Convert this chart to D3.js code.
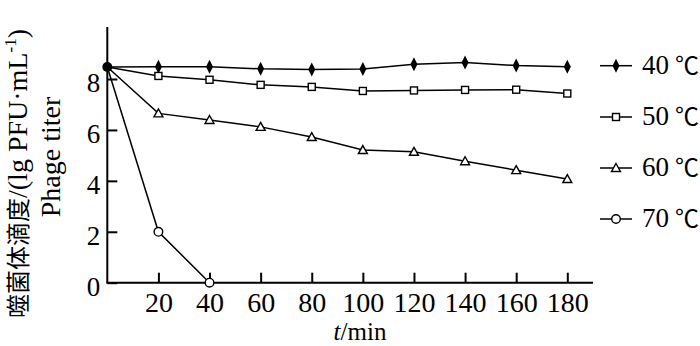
<!DOCTYPE html>
<html><head><meta charset="utf-8">
<script src="https://cdn.jsdelivr.net/npm/d3@7"></script>
<style>body{margin:0;background:#fff}svg{display:block}</style>
</head><body>
<svg id="c" width="700" height="346"></svg>
<script>
const times = [0,20,40,60,80,100,120,140,160,180];
const xTicks = [20,40,60,80,100,120,140,160,180];
const yTicks = [0,2,4,6,8];
const seriesNames = ["40 ℃","50 ℃","60 ℃","70 ℃"];
const s40 = [8.47,8.48,8.48,8.40,8.37,8.39,8.58,8.65,8.53,8.48];
const s50 = [8.47,8.12,7.97,7.77,7.69,7.53,7.55,7.57,7.58,7.43];
const s60 = [8.47,6.65,6.39,6.12,5.72,5.21,5.14,4.77,4.42,4.07];
const s70 = [8.47,2.0,0];
const symbols = ["diamond","square","triangle","circle"];

const svg = d3.select("#c");
const x = d3.scaleLinear().domain([0,180]).range([107.3,567.3]);
const y = d3.scaleLinear().domain([0,8]).range([282.7,79]);
const font = "'Liberation Serif','Times New Roman',serif";

// axis lines
svg.append("line").attr("x1",x(0)-1).attr("x2",593).attr("y1",y(0)).attr("y2",y(0)).attr("stroke","#000").attr("stroke-width",2);
svg.append("line").attr("x1",x(0)).attr("x2",x(0)).attr("y1",y(0)).attr("y2",27).attr("stroke","#000").attr("stroke-width",2);

const xa = svg.append("g").attr("transform",`translate(0,${y(0)})`)
  .call(d3.axisBottom(x).tickValues(xTicks).tickSizeInner(-10).tickSizeOuter(0).tickPadding(9));
xa.select(".domain").remove();
xa.selectAll(".tick line").attr("stroke-width",2);
xa.selectAll("text").attr("font-family",font).attr("font-size",28).attr("fill","#000");

const ya = svg.append("g").attr("transform",`translate(${x(0)},0)`)
  .call(d3.axisLeft(y).tickValues(yTicks).tickSizeInner(-10).tickSizeOuter(0).tickPadding(7));
ya.select(".domain").remove();
ya.selectAll(".tick line").attr("stroke-width",2);
ya.selectAll("text").attr("font-family",font).attr("font-size",27).attr("fill","#000").attr("dy","0.46em");

// series
const allSeries = [s40,s50,s60,s70];
const line = d3.line().x((d,i)=>x(times[i])).y(d=>y(d));
function drawSym(sel, type, cx, cy){
  if(type==="diamond"){
    sel.append("path").attr("d",`M${cx},${cy-7}L${cx+3.5},${cy}L${cx},${cy+7}L${cx-3.5},${cy}Z`).attr("fill","#000");
  } else if(type==="square"){
    sel.append("rect").attr("x",cx-3.5).attr("y",cy-3.5).attr("width",7).attr("height",7).attr("fill","#fff").attr("stroke","#000").attr("stroke-width",1.4);
  } else if(type==="triangle"){
    sel.append("path").attr("d",`M${cx},${cy-4.5}L${cx+4.5},${cy+3.5}L${cx-4.5},${cy+3.5}Z`).attr("fill","#fff").attr("stroke","#000").attr("stroke-width",1.4);
  } else {
    sel.append("circle").attr("cx",cx).attr("cy",cy).attr("r",4.3).attr("fill","#fff").attr("stroke","#000").attr("stroke-width",1.4);
  }
}
allSeries.forEach((s,k)=>{
  svg.append("path").datum(s).attr("d",line).attr("fill","none").attr("stroke","#000").attr("stroke-width",1.5);
});
allSeries.forEach((s,k)=>{
  const gg = svg.append("g");
  s.forEach((v,i)=>{ if(i>0) drawSym(gg, symbols[k], x(times[i]), y(v)); });
});
// common start point
svg.append("circle").attr("cx",x(0)).attr("cy",y(s40[0])).attr("r",5).attr("fill","#000");

// legend
const legY = [65.7,117,168,219];
seriesNames.forEach((n,k)=>{
  const lg = svg.append("g");
  lg.append("line").attr("x1",600).attr("x2",632).attr("y1",legY[k]).attr("y2",legY[k]).attr("stroke","#000").attr("stroke-width",1.5);
  drawSym(lg, symbols[k], 616, legY[k]);
  const parts = n.split(" ");
  const t = lg.append("text").attr("x",642).attr("y",legY[k]+8).attr("font-family",font).attr("font-size",27);
  t.append("tspan").text(parts[0]);
  t.append("tspan").attr("x",675).attr("font-family","'Noto Sans CJK SC'").attr("font-size",24).text(parts[1]);
});

// x label
const xl = svg.append("text").attr("x",360).attr("y",340).attr("text-anchor","middle").attr("font-family",font).attr("font-size",25);
xl.append("tspan").attr("font-style","italic").text("t");
xl.append("tspan").text("/min");

// y labels
const yl1 = svg.append("text").attr("transform","translate(27,318) rotate(-90)").attr("text-anchor","start").attr("font-family",font).attr("font-size",28);
yl1.append("tspan").attr("font-family","'Noto Sans CJK SC'").attr("font-size",24).text("噬菌体滴度");
yl1.append("tspan").text("/(lg PFU·mL");
yl1.append("tspan").attr("font-size",17).attr("dy",-11).text("-1");
yl1.append("tspan").attr("dy",11).text(")");
svg.append("text").attr("transform","translate(60,157) rotate(-90)").attr("text-anchor","middle").attr("font-family",font).attr("font-size",28).text("Phage titer");
</script>
</body></html>
